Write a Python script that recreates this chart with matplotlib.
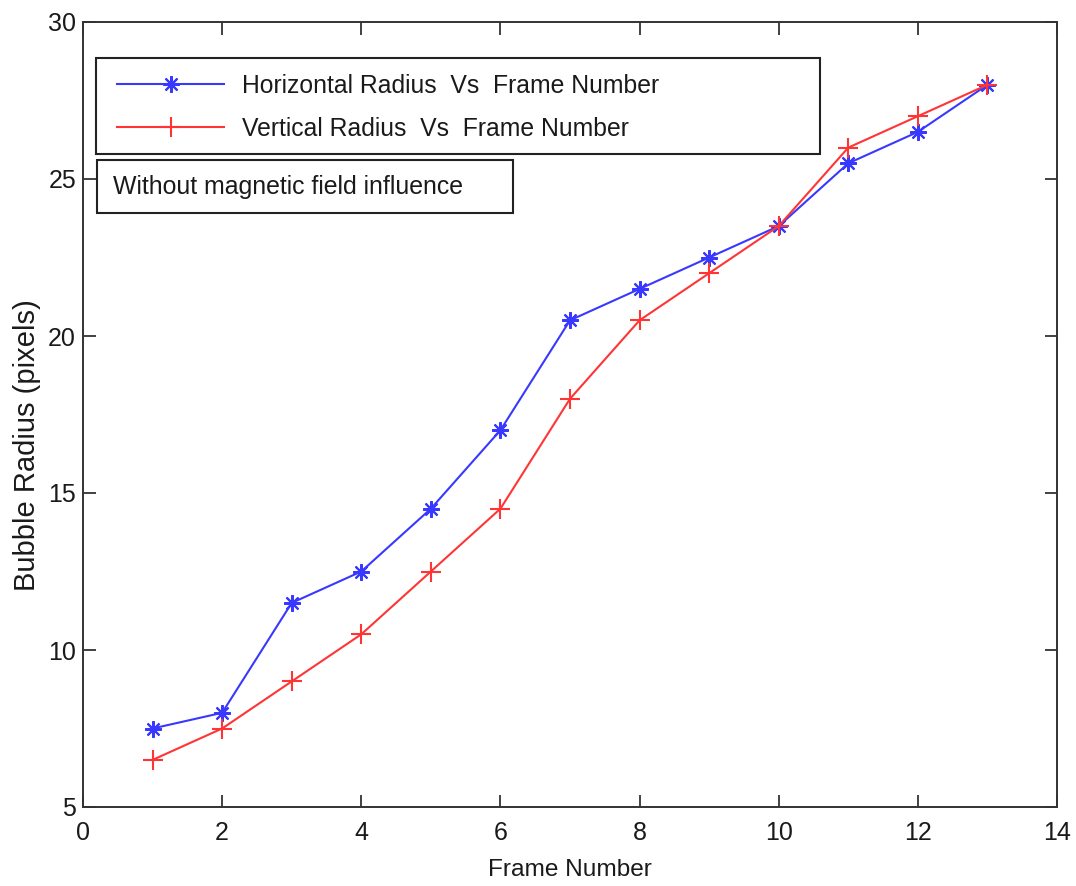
import matplotlib
matplotlib.use("Agg")
import matplotlib.pyplot as plt
from matplotlib.patches import Rectangle

# Bubble radius measurements per frame
frames = [1, 2, 3, 4, 5, 6, 7, 8, 9, 10, 11, 12, 13]
horizontal_radius = [7.5, 8, 11.5, 12.5, 14.5, 17, 20.5, 21.5, 22.5, 23.5, 25.5, 26.5, 28]
vertical_radius = [6.5, 7.5, 9, 10.5, 12.5, 14.5, 18, 20.5, 22, 23.5, 26, 27, 28]

x_ticks = [0, 2, 4, 6, 8, 10, 12, 14]
y_ticks = [5, 10, 15, 20, 25, 30]

plt.rcParams['font.family'] = ['Liberation Sans', 'DejaVu Sans']
TXT = '#1a1a1a'

W, H = 1076, 886
fig = plt.figure(figsize=(W / 100, H / 100), dpi=100)
ax = fig.add_axes([83 / W, 1 - 807 / H, (1057 - 83) / W, (807 - 22) / H])

ax.plot(frames, horizontal_radius, color='#3838ff', lw=1.5,
        marker=(8, 2, 0), markersize=12, markeredgewidth=1.5,
        label='Horizontal Radius  Vs  Frame Number')
ax.plot(frames, vertical_radius, color='#ff3535', lw=1.5,
        marker='+', markersize=14, markeredgewidth=1.5,
        label='Vertical Radius  Vs  Frame Number')

ax.set_xlim(0, 14)
ax.set_ylim(5, 30)
ax.set_xticks(x_ticks)
ax.set_yticks(y_ticks)
ax.tick_params(direction='in', length=9, width=1.3, top=True, right=True,
               labelsize=18, colors='#333333', labelcolor=TXT)
ax.tick_params(axis='x', pad=10)
ax.tick_params(axis='y', pad=5)
for s in ax.spines.values():
    s.set_linewidth(1.4)
    s.set_color('#333333')

ax.set_xlabel('Frame Number', fontsize=17.6, color=TXT, labelpad=10)
ax.set_ylabel('Bubble Radius (pixels)', fontsize=21, color=TXT)
ax.yaxis.set_label_coords(-0.043, 0.461)

# Legend box and entries
fig.add_artist(Rectangle((96 / W, 1 - 154 / H), (820 - 96) / W, (154 - 58) / H,
                         transform=fig.transFigure, fill=False,
                         ec='#222222', lw=1.5))
ax.legend(loc='center left', bbox_to_anchor=(117 / W, 1 - 107.5 / H),
          bbox_transform=fig.transFigure, frameon=False, fontsize=17.8,
          handlelength=4.33, handletextpad=0.73, borderpad=0,
          borderaxespad=0, labelspacing=0.78, labelcolor=TXT)

# Annotation box
fig.add_artist(Rectangle((97 / W, 1 - 213 / H), (513 - 97) / W, (213 - 160) / H,
                         transform=fig.transFigure, fill=False,
                         ec='#222222', lw=1.5))
fig.text(113 / W, 1 - 187 / H, 'Without magnetic field influence',
         fontsize=17.9, va='center', ha='left', color=TXT)

fig.savefig('out.png', dpi=100)
